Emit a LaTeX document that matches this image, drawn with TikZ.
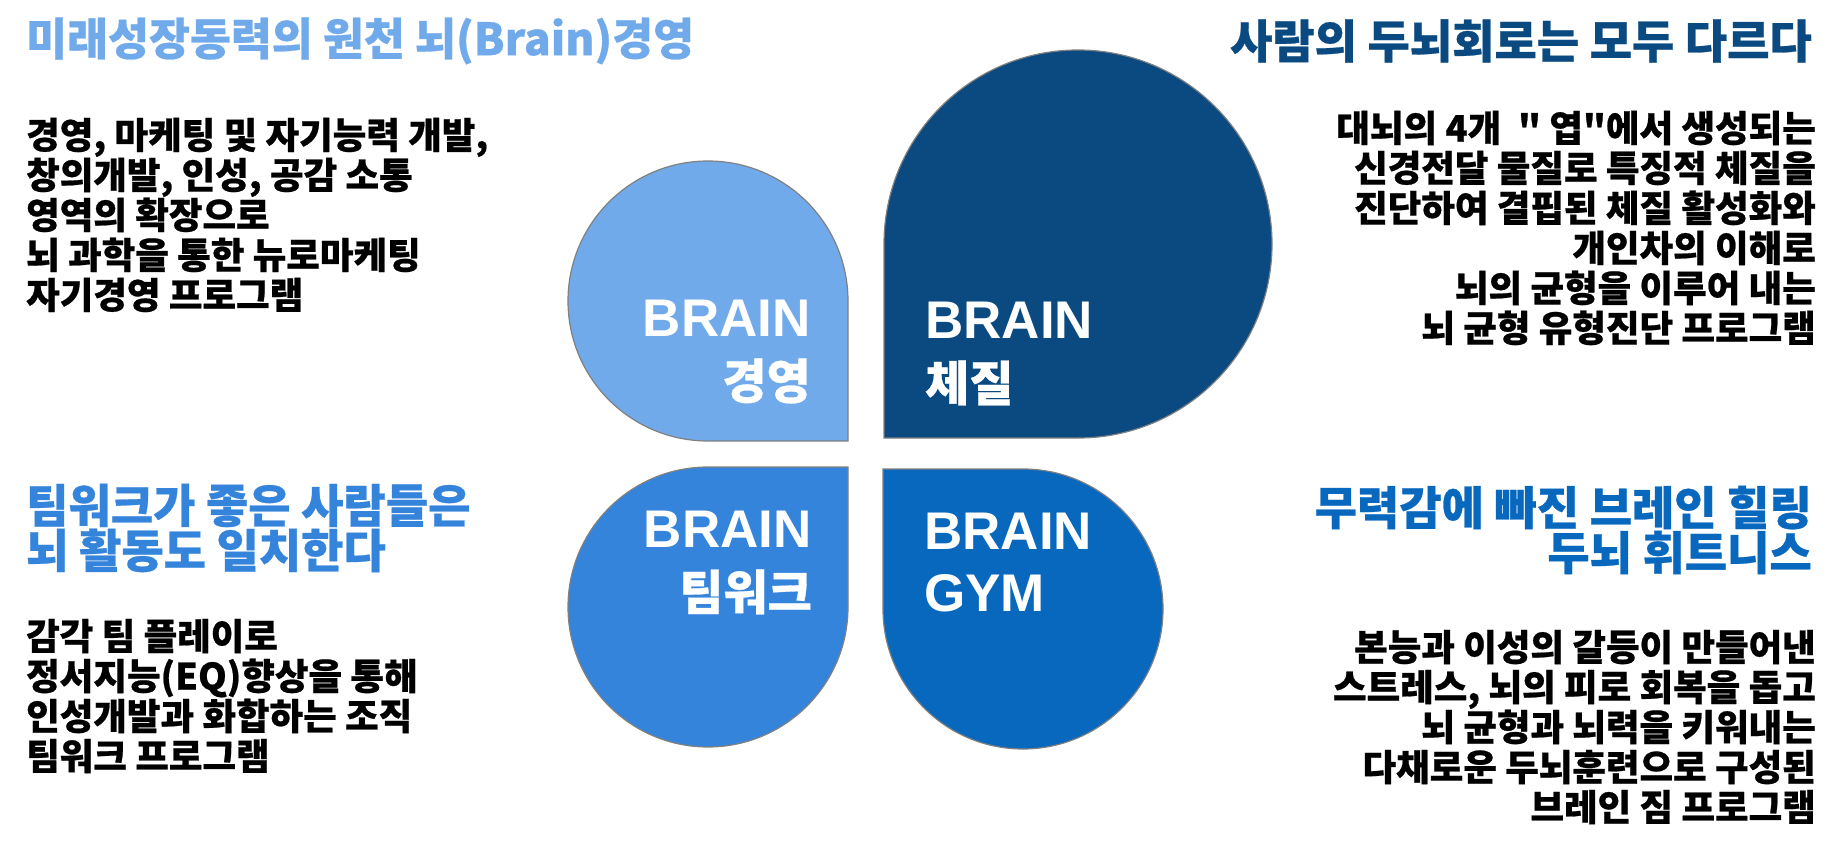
\documentclass[tikz,border=0pt]{standalone}
\usepackage{fontspec}
\setmainfont{Noto Sans CJK KR}[BoldFeatures={FakeBold=0.6}]
\newfontfamily\latfont{Liberation Sans}
\newfontfamily\krplain{Noto Sans CJK KR}[BoldFeatures={FakeBold=0.6}]
\usepackage{xcolor}
\definecolor{brainLight}{HTML}{70AAEA}
\definecolor{brainNavy}{HTML}{0A4A80}
\definecolor{brainMid}{HTML}{3584DC}
\definecolor{brainDeep}{HTML}{0868BE}

\begin{document}
\begin{tikzpicture}[x=1pt, y=-1pt,
        petal/.style={draw=black!50, line width=1.2pt},
        heading/.style={font=\bfseries\fontsize{46}{45}\selectfont, inner sep=0pt},
        bodytext/.style={font=\bfseries\fontsize{36.5}{40}\selectfont, inner sep=0pt},
        petaltext/.style={text=white, font=\bfseries\fontsize{48}{62}\selectfont, inner sep=0pt}
    ]
        \path[fill=white] (0,0) rectangle (1845,845);
        \useasboundingbox (0,0) rectangle (1845,845);

        % Petals
        \draw[petal, fill=brainLight] (848,441) -- (708,441) arc[start angle=90, end angle=360, radius=140] -- cycle;
        \draw[petal, fill=brainNavy] (884,438) -- (884,244) arc[start angle=180, end angle=450, radius=194] -- cycle;
        \draw[petal, fill=brainMid] (848,467) -- (848,607) arc[start angle=0, end angle=270, radius=140] -- cycle;
        \draw[petal, fill=brainDeep] (883,469) -- (1023,469) arc[start angle=270, end angle=540, radius=140] -- cycle;

        % Petal labels
        \node[petaltext, align=right, anchor=east] (gyeongyeong) at (811,352) {{\latfont\fontsize{53}{62}\selectfont BRAIN}\\경영};
        \node[petaltext, align=left, anchor=west] (chejil) at (925,354) {{\latfont\fontsize{53}{62}\selectfont BRAIN}\\체질};
        \node[petaltext, align=right, anchor=east] (teamwork) at (812,563) {{\latfont\fontsize{53}{62}\selectfont BRAIN}\\팀워크};
        \node[petaltext, align=left, anchor=west] (gym) at (924,563) {{\latfont\fontsize{53}{62}\selectfont BRAIN}\\{\latfont\fontsize{53}{62}\selectfont GYM}};

        % Headings
        \node[heading, text=brainLight, anchor=west, font=\bfseries\fontsize{44.5}{45}\selectfont] (headTL) at (26,41) {미래성장동력의 원천 뇌(Brain)경영};
        \node[heading, text=brainNavy, anchor=east] (headTR) at (1812,41) {사람의 두뇌회로는 모두 다르다};
        \node[heading, text=brainMid, align=left, anchor=west] (headBL) at (26,528) {팀워크가 좋은 사람들은\\뇌 활동도 일치한다};
        \node[heading, text=brainDeep, align=right, anchor=east] (headBR) at (1812,530) {무력감에 빠진 브레인 힐링\\두뇌 휘트니스};

        % Descriptions
        \node[bodytext, align=left, anchor=west] (textTL) at (26,215) {경영, 마케팅 및 자기능력 개발,\\창의개발, 인성, 공감 소통\\영역의 확장으로\\뇌 과학을 통한 뉴로마케팅\\자기경영 프로그램};
        \node[bodytext, align=right, anchor=east] (textTR) at (1816,228) {대뇌의 4개\ \ {\krplain"} 엽{\krplain"}에서 생성되는\\신경전달 물질로 특징적 체질을\\진단하여 결핍된 체질 활성화와\\개인차의 이해로\\뇌의 균형을 이루어 내는\\뇌 균형 유형진단 프로그램};
        \node[bodytext, align=left, anchor=west] (textBL) at (26,696) {감각 팀 플레이로\\정서지능(EQ)향상을 통해\\인성개발과 화합하는 조직\\팀워크 프로그램};
        \node[bodytext, align=right, anchor=east] (textBR) at (1816,727) {본능과 이성의 갈등이 만들어낸\\스트레스, 뇌의 피로 회복을 돕고\\뇌 균형과 뇌력을 키워내는\\다채로운 두뇌훈련으로 구성된\\브레인 짐 프로그램};
    \end{tikzpicture}
\end{document}
